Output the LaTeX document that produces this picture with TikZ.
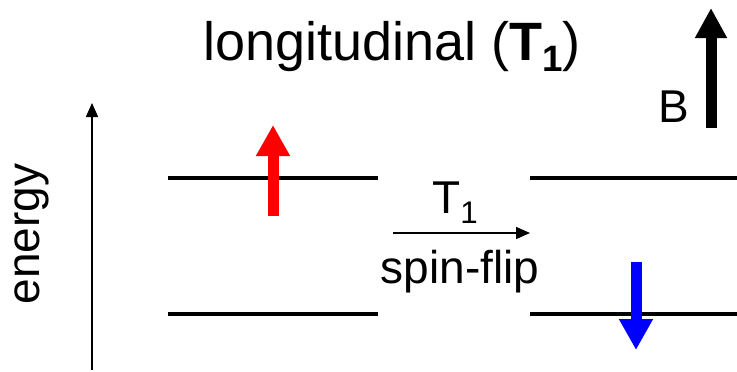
\documentclass[tikz,border=0pt]{standalone}
\usepackage{fontspec}
\setmainfont{Liberation Sans}
\usetikzlibrary{arrows.meta}
\newcommand{\lowsub}[1]{\raisebox{-0.22em}{\scalebox{0.68}{#1}}}

\begin{document}
\begin{tikzpicture}[x=1pt, y=-1pt, >=Triangle]
    \tikzset{level/.style={line width=4pt},
        spin/.style={line width=11pt, -{Triangle[length=31pt, width=32pt]}},
        thin arrow/.style={line width=1.5pt, -{Triangle[length=14pt, width=12pt]}},
        lbl/.style={inner sep=0pt, font=\fontsize{46}{52}\selectfont}
    }
    \useasboundingbox (0,0) rectangle (737,372);

    % the two spin levels, left and right
    \foreach \y / \n in {178/up, 314/down} {
        \draw [level] (168,\y) coordinate (L-\n) -- (378,\y) coordinate (L-\n-end);
        \draw [level] (530,\y) coordinate (R-\n) -- (737,\y) coordinate (R-\n-end);
    }

    \node (title) [lbl, anchor=base west, font=\fontsize{54}{60}\selectfont] at (203,60)
        {longitudinal (\textbf{T\lowsub{1}})};

    % energy axis
    \coordinate (E-bottom) at (92,370);
    \coordinate (E-top) at (92,103);
    \draw [thin arrow] (E-bottom) -- (E-top);
    \node (energy) [lbl, rotate=90, anchor=base] at (39,234) {energy};

    % spins
    \coordinate (up-tail) at (273,216);
    \coordinate (up-tip) at (273,125);
    \draw [spin, red] (up-tail) -- (up-tip);
    \coordinate (down-tail) at (636,262);
    \coordinate (down-tip) at (636,350);
    \draw [spin, blue] (down-tail) -- (down-tip);

    % field
    \coordinate (B-tail) at (711,128);
    \coordinate (B-tip) at (711,8);
    \draw [line width=11pt, -{Triangle[length=30pt, width=30pt]}] (B-tail) -- (B-tip);
    \node (B) [lbl, anchor=base] at (674,122) {B};

    % transition
    \coordinate (flip-from) at (393,233);
    \coordinate (flip-to) at (530,233);
    \draw [thin arrow] (flip-from) -- (flip-to);
    \node (T1) [lbl, anchor=base] at (455,213) {T\lowsub{1}};
    \node (flip) [lbl, anchor=base] at (460,283) {spin-flip};
\end{tikzpicture}
\end{document}
